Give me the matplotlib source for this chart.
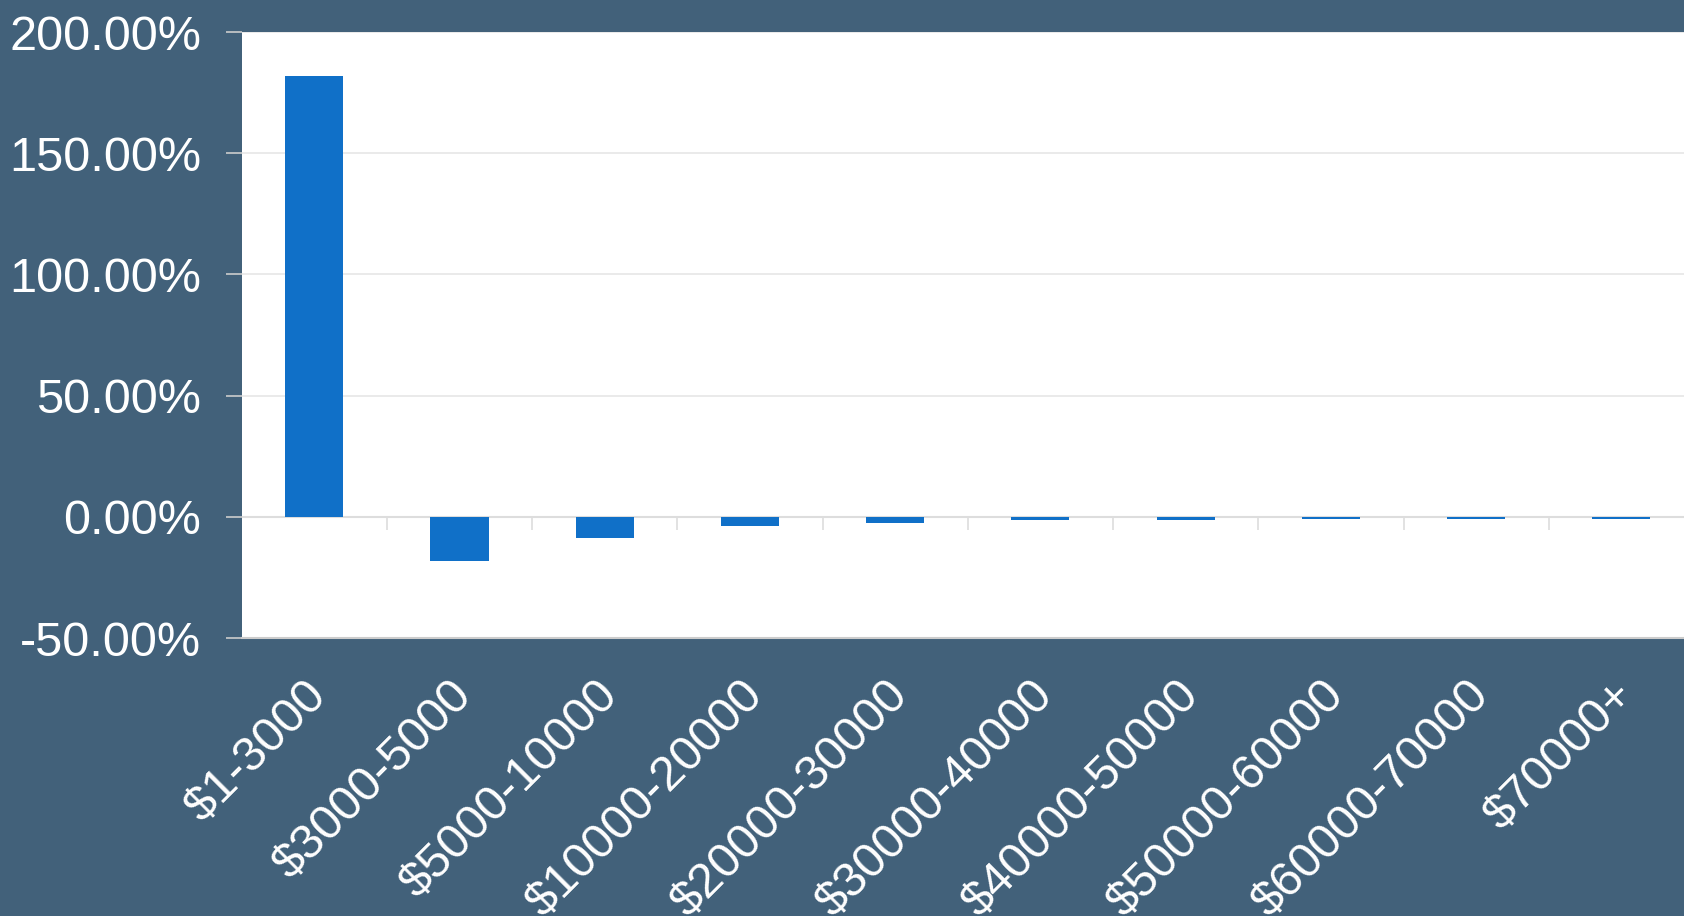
import matplotlib
matplotlib.use('Agg')
import matplotlib.pyplot as plt
import matplotlib.transforms as mtransforms
import numpy as np
from matplotlib.ticker import FuncFormatter

cats = ['$1-3000', '$3000-5000', '$5000-10000', '$10000-20000', '$20000-30000',
        '$30000-40000', '$40000-50000', '$50000-60000', '$60000-70000', '$70000+']
vals = [181.7, -18.3, -8.8, -4.0, -2.5, -1.5, -1.5, -0.8, -0.8, -0.8]

bg = '#42617a'
blue = '#1070c8'
grid = '#e6e6e6'

plt.rcParams['font.family'] = ['Liberation Sans', 'DejaVu Sans']

fig = plt.figure(figsize=(16.84, 9.16), dpi=100, facecolor=bg)
# plot area runs a little past the right edge, as in the original
ax = fig.add_axes([241.6/1684, 1-638/916, (1694-241.6)/1684, (638-32)/916])
ax.set_facecolor('white')

x = np.arange(len(cats))
ax.bar(x, vals, width=0.4, color=blue, zorder=3)

ax.set_xlim(-0.5, len(cats)-0.5)
ax.set_ylim(-50, 200)
ax.set_yticks(np.arange(-50, 201, 50))
ax.yaxis.set_major_formatter(FuncFormatter(lambda v, p: '%.2f%%' % v))
ax.grid(axis='y', color=grid, linewidth=1.2, zorder=0)
ax.axhline(0, color='#dddddd', linewidth=1.5, zorder=2)

# category separators hanging below the zero line
ax.vlines(x[:-1]+0.5, -5.5, 0, color='#dddddd', linewidth=1.2, zorder=2)

for s in ['top', 'right', 'left']:
    ax.spines[s].set_visible(False)
ax.spines['bottom'].set_color('#cccccc')
ax.spines['bottom'].set_linewidth(1.5)

ax.tick_params(axis='y', colors='white', labelsize=35, length=11.5, width=1.2, pad=17.5)
ax.tick_params(axis='y', which='major', color='#cccccc')
ax.set_xticks(x)
ax.set_xticklabels(cats, rotation=45, ha='right', rotation_mode='anchor',
                   color='white', fontsize=35)
ax.tick_params(axis='x', length=0, pad=40)
shift = mtransforms.ScaledTranslation(-0.10, 0.21, fig.dpi_scale_trans)
for lab in ax.get_xticklabels():
    lab.set_transform(lab.get_transform() + shift)

fig.savefig('out.png', dpi=100, facecolor=bg)
